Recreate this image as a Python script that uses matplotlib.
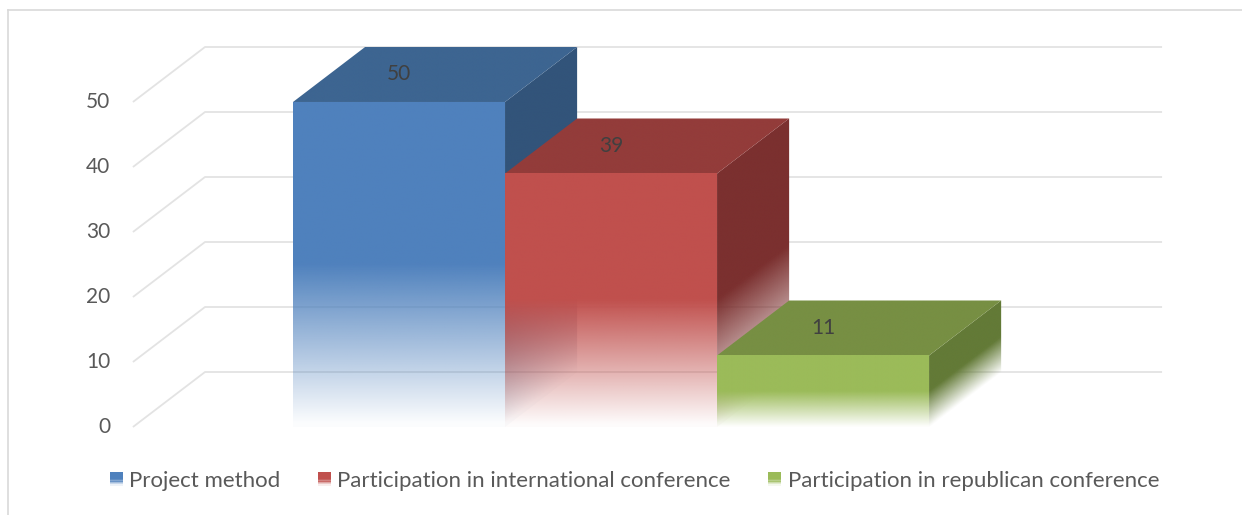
import numpy as np
import matplotlib
matplotlib.use("Agg")
import matplotlib.pyplot as plt
from matplotlib.patches import Polygon, Rectangle
from matplotlib.lines import Line2D
from matplotlib.legend_handler import HandlerBase
from matplotlib.colors import to_rgb

# ---------------- data ----------------
categories = ["Project method",
              "Participation in international conference",
              "Participation in republican conference"]
values = [50, 39, 11]
y_ticks = [0, 10, 20, 30, 40, 50]

front_colors = ["#4F81BD", "#C0504D", "#9BBB59"]
top_colors = ["#3D6591", "#933C3A", "#778F43"]
side_colors = ["#32547A", "#7B302F", "#637A37"]

# ---------------- layout ----------------
W, H, DPI = 1242, 515, 100
FONT = "Lato"
fig = plt.figure(figsize=(W / DPI, H / DPI), dpi=DPI)
ax = fig.add_axes([0, 0, 1, 1])
XLIM = (-1.882, 3.976)
YLIM = (-13.54, 65.69)
ax.set_xlim(*XLIM)
ax.set_ylim(*YLIM)
ax.axis("off")

DX, DY = 0.34, 8.46          # 3-D depth offset (category units, value units)
WALL_L, WALL_R = -1.255, 3.599
BAR_W = 1.0
FADE = 0.5                   # fraction of the bar height that fades out

# back wall / side wall gridlines + tick labels
for v in y_ticks:
    ax.plot([WALL_L, WALL_L + DX, WALL_R], [v, v + DY, v + DY],
            color="#E3E3E3", lw=1.3, zorder=1, solid_capstyle="butt")
    ax.text(-1.363, v, str(v), ha="right", va="center", fontsize=15,
            color="#595959", family=FONT)


def fade(t):
    return np.clip(t / FADE, 0.02, 1.0)


def face(poly_xy, color, alpha_fn, zorder):
    poly_xy = np.asarray(poly_xy, float)
    poly = Polygon(poly_xy, closed=True, facecolor="none", edgecolor="none")
    ax.add_patch(poly)
    x0, x1 = poly_xy[:, 0].min(), poly_xy[:, 0].max()
    y0, y1 = poly_xy[:, 1].min(), poly_xy[:, 1].max()
    nx, ny = 220, 420
    gx = np.linspace(x0, x1, nx)
    gy = np.linspace(y0, y1, ny)
    X, Y = np.meshgrid(gx, gy)
    rgba = np.zeros((ny, nx, 4))
    rgba[..., :3] = to_rgb(color)
    rgba[..., 3] = alpha_fn(X, Y)
    im = ax.imshow(rgba, extent=(x0, x1, y0, y1), origin="lower",
                   aspect="auto", interpolation="bilinear", zorder=zorder)
    im.set_clip_path(poly)


for i, (v, fc, tc, sc) in enumerate(zip(values, front_colors, top_colors, side_colors)):
    xl, xr = i - BAR_W / 2, i + BAR_W / 2
    z = 3 + i * 3
    # side face (right)
    side = [(xr, 0), (xr + DX, DY), (xr + DX, v + DY), (xr, v)]
    face(side, sc,
         lambda X, Y, xr=xr, v=v: fade((Y - (X - xr) / DX * DY) / v), z)
    # top face
    top = [(xl, v), (xl + DX, v + DY), (xr + DX, v + DY), (xr, v)]
    face(top, tc, lambda X, Y: np.ones_like(X), z + 1)
    # front face
    front = [(xl, 0), (xl, v), (xr, v), (xr, 0)]
    face(front, fc, lambda X, Y, v=v: fade(Y / v), z + 2)
    # value label
    ax.text(i, v + DY / 2, str(v), ha="center", va="center", fontsize=15,
            color="#404040", family=FONT, zorder=20)

ax.set_xlim(*XLIM)
ax.set_ylim(*YLIM)


# ---------------- legend ----------------
class GradHandler(HandlerBase):
    def __init__(self, color):
        super().__init__()
        self.color = color

    def create_artists(self, legend, orig_handle, xdescent, ydescent,
                       width, height, fontsize, trans):
        arts = []
        n = 10
        s = height
        x0 = -xdescent + (width - s) / 2
        y0 = -ydescent
        for k in range(n):
            t = (k + 0.5) / n
            a = min(1.0, max(0.05, t / 0.5))
            r = Rectangle((x0, y0 + s * k / n), s, s / n + 0.3,
                          facecolor=self.color, alpha=a, edgecolor="none",
                          transform=trans)
            arts.append(r)
        return arts


handles = [Rectangle((0, 0), 1, 1, facecolor=c) for c in front_colors]
hmap = {h: GradHandler(c) for h, c in zip(handles, front_colors)}
fig.legend(handles, categories, handler_map=hmap, loc="center",
           bbox_to_anchor=(0.511, 1 - 481 / H), ncol=3, frameon=False,
           prop={"family": FONT, "size": 16}, labelcolor="#595959",
           handlelength=0.54, handleheight=0.54, handletextpad=0.31,
           columnspacing=1.71)

# chart frame
fig.add_artist(Line2D([8 / W, 8 / W], [0, 1 - 10 / H], transform=fig.transFigure,
                      color="#D9D9D9", lw=1.2))
fig.add_artist(Line2D([8 / W, 1], [1 - 10 / H, 1 - 10 / H], transform=fig.transFigure,
                      color="#D9D9D9", lw=1.2))

fig.savefig("out.png", dpi=DPI)
